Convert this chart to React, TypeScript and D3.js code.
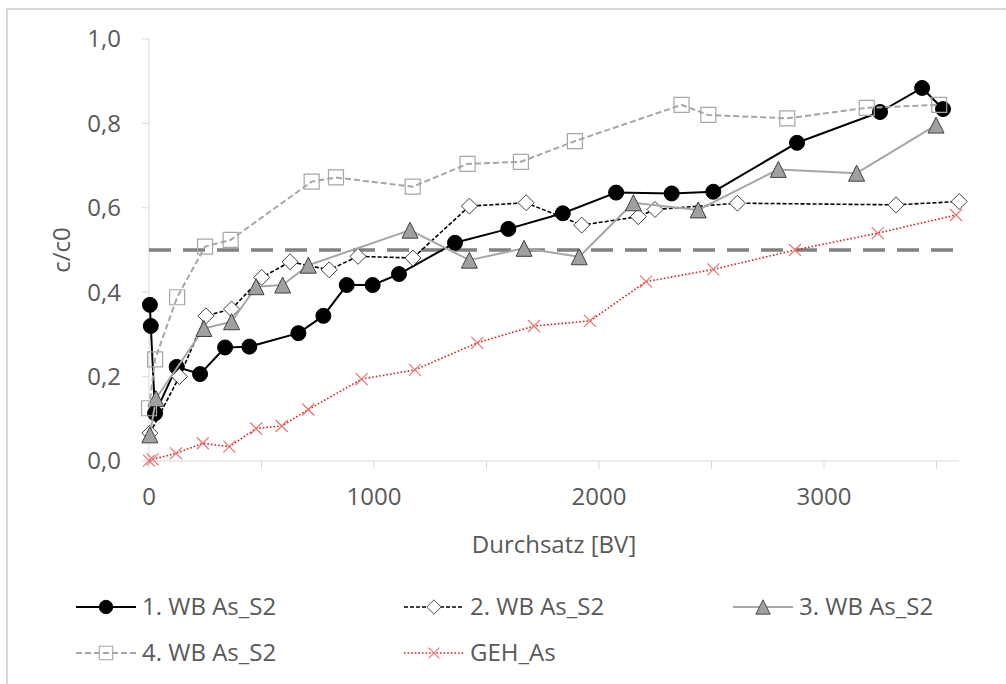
import { useEffect, useRef } from "react";
import * as d3 from "d3";

// Durchsatz [BV] and c/c0 per series
const bv1 = [4, 8, 27, 123, 227, 338, 446, 664, 775, 879, 994, 1111, 1360, 1597, 1839, 2076, 2323, 2508, 2880, 3249, 3436, 3529];
const cc1 = [0.37, 0.32, 0.113, 0.223, 0.206, 0.269, 0.271, 0.303, 0.344, 0.417, 0.417, 0.443, 0.517, 0.55, 0.587, 0.636, 0.634, 0.638, 0.754, 0.827, 0.884, 0.834];

const bv2 = [4, 135, 253, 367, 501, 627, 801, 929, 1173, 1424, 1676, 1923, 2175, 2249, 2615, 3320, 3601];
const cc2 = [0.066, 0.2, 0.344, 0.36, 0.435, 0.472, 0.453, 0.485, 0.481, 0.604, 0.612, 0.559, 0.579, 0.596, 0.611, 0.607, 0.615];

const bv3 = [4, 31, 244, 367, 476, 594, 708, 1160, 1424, 1667, 1912, 2153, 2441, 2797, 3145, 3498];
const cc3 = [0.062, 0.148, 0.314, 0.33, 0.413, 0.417, 0.464, 0.547, 0.476, 0.504, 0.484, 0.612, 0.595, 0.691, 0.682, 0.796];

const bv4 = [0, 27, 125, 249, 363, 723, 831, 1172, 1416, 1653, 1893, 2367, 2486, 2837, 3190, 3512];
const cc4 = [0.125, 0.241, 0.388, 0.508, 0.524, 0.662, 0.672, 0.65, 0.704, 0.709, 0.758, 0.844, 0.82, 0.812, 0.837, 0.844];

const bv5 = [0, 16, 120, 239, 357, 476, 590, 708, 945, 1182, 1459, 1711, 1960, 2209, 2508, 2871, 3239, 3587];
const cc5 = [0.001, 0.004, 0.018, 0.042, 0.034, 0.077, 0.083, 0.122, 0.194, 0.216, 0.28, 0.32, 0.332, 0.425, 0.454, 0.5, 0.54, 0.583];

const seriesNames = ["1. WB As_S2", "2. WB As_S2", "3. WB As_S2", "4. WB As_S2", "GEH_As"];
const yTicks = [0, 0.2, 0.4, 0.6, 0.8, 1.0];
const xTicks = [0, 1000, 2000, 3000];
const halfLine = 0.5;

const FONT = "'Open Sans', sans-serif";
const TXT = "#595959";
const FS = 24;

const circlePath = (s) => d3.symbol(d3.symbolCircle, Math.PI * (s / 2) * (s / 2))();
const squarePath = (s) => `M${-s / 2},${-s / 2}h${s}v${s}h${-s}Z`;
const diamondPath = (s) => `M0,${-s / 2}L${s / 2},0L0,${s / 2}L${-s / 2},0Z`;
const trianglePath = (s) => `M0,${-s / 2}L${s / 2},${s / 2}L${-s / 2},${s / 2}Z`;
const crossPath = (s) => `M${-s / 2},${-s / 2}L${s / 2},${s / 2}M${s / 2},${-s / 2}L${-s / 2},${s / 2}`;

const styles = [
  { line: "#000000", width: 2, dash: null, marker: circlePath(15), fill: "#000000", stroke: "#000000", mw: 1 },
  { line: "#000000", width: 1.6, dash: "4,2", marker: diamondPath(16), fill: "#ffffff", stroke: "#404040", mw: 1 },
  { line: "#a6a6a6", width: 2, dash: null, marker: trianglePath(16), fill: "#a0a0a0", stroke: "#404040", mw: 1 },
  { line: "#a6a6a6", width: 2, dash: "6,3", marker: squarePath(15), fill: "none", stroke: "#a6a6a6", mw: 1.2 },
  { line: "#e02020", width: 1.6, dash: "1.6,2", marker: crossPath(12), fill: "none", stroke: "#f07070", mw: 1.2 },
];

const App = () => {
  const ref = useRef(null);

  useEffect(() => {
    const svg = d3.select(ref.current);
    svg.selectAll("*").remove();

    const x = d3.scaleLinear().domain([0, 3600]).range([149, 959]);
    const y = d3.scaleLinear().domain([0, 1]).range([461, 39]);

    // chart area border (only top/left visible)
    svg.append("rect").attr("x", 7).attr("y", 9).attr("width", 1020).attr("height", 700)
      .attr("fill", "#fff").attr("stroke", "#d9d9d9").attr("stroke-width", 2);

    // y axis
    svg.append("line").attr("x1", 149).attr("x2", 149).attr("y1", y(1)).attr("y2", y(0))
      .attr("stroke", "#d9d9d9").attr("stroke-width", 1);
    yTicks.forEach((t) => {
      svg.append("line").attr("x1", 142).attr("x2", 149).attr("y1", y(t)).attr("y2", y(t))
        .attr("stroke", "#d9d9d9");
      svg.append("text").attr("x", 121).attr("y", y(t)).attr("dy", "0.35em")
        .attr("text-anchor", "end").attr("font-family", FONT).attr("font-size", FS)
        .attr("fill", TXT).text(d3.format(".1f")(t).replace(".", ","));
    });

    // x axis
    svg.append("line").attr("x1", x(0)).attr("x2", x(3600)).attr("y1", 461).attr("y2", 461)
      .attr("stroke", "#d9d9d9").attr("stroke-width", 1);
    d3.range(0, 3600, 500).forEach((t) => {
      svg.append("line").attr("x1", x(t)).attr("x2", x(t)).attr("y1", 461).attr("y2", 469)
        .attr("stroke", "#d9d9d9");
    });
    xTicks.forEach((t) => {
      svg.append("text").attr("x", x(t)).attr("y", 497).attr("dy", "0.35em")
        .attr("text-anchor", "middle").attr("font-family", FONT).attr("font-size", FS)
        .attr("fill", TXT).text(t);
    });

    svg.append("text").attr("x", 554).attr("y", 545).attr("dy", "0.35em")
      .attr("text-anchor", "middle").attr("font-family", FONT).attr("font-size", FS)
      .attr("fill", TXT).text("Durchsatz [BV]");
    svg.append("text").attr("transform", "translate(62,250) rotate(-90)").attr("dy", "0.35em")
      .attr("text-anchor", "middle").attr("font-family", FONT).attr("font-size", FS)
      .attr("fill", TXT).text("c/c0");

    // 50 % line
    svg.append("line").attr("x1", x(0)).attr("x2", x(3600)).attr("y1", y(halfLine)).attr("y2", y(halfLine))
      .attr("stroke", "#808080").attr("stroke-width", 3.5).attr("stroke-dasharray", "22,12");

    const allX = [bv1, bv2, bv3, bv4, bv5];
    const allY = [cc1, cc2, cc3, cc4, cc5];

    allX.forEach((xs, i) => {
      const st = styles[i];
      const pts = xs.map((v, j) => [v, allY[i][j]]);
      const line = d3.line().x((d) => x(d[0])).y((d) => y(d[1]));
      svg.append("path").attr("d", line(pts)).attr("fill", "none")
        .attr("stroke", st.line).attr("stroke-width", st.width)
        .attr("stroke-dasharray", st.dash).attr("stroke-linejoin", "round");
      svg.selectAll(null).data(pts).enter().append("path")
        .attr("d", st.marker)
        .attr("transform", (d) => `translate(${x(d[0])},${y(d[1])})`)
        .attr("fill", st.fill).attr("stroke", st.stroke).attr("stroke-width", st.mw);
    });

    // legend
    const legX = [76, 404, 733, 76, 404];
    const legY = [607, 607, 607, 653, 653];
    seriesNames.forEach((name, i) => {
      const st = styles[i];
      const g = svg.append("g").attr("transform", `translate(${legX[i]},${legY[i]})`);
      g.append("line").attr("x1", 0).attr("x2", 60).attr("y1", 0).attr("y2", 0)
        .attr("stroke", st.line).attr("stroke-width", st.width).attr("stroke-dasharray", st.dash);
      g.append("path").attr("d", st.marker).attr("transform", "translate(30,0) scale(0.9)")
        .attr("fill", st.fill).attr("stroke", st.stroke).attr("stroke-width", st.mw);
      g.append("text").attr("x", 66).attr("y", 0).attr("dy", "0.35em")
        .attr("font-family", FONT).attr("font-size", FS).attr("fill", TXT).text(name);
    });
  }, []);

  return (
    <svg ref={ref} width={1006} height={684}
      style={{ position: "absolute", left: 0, top: 0, background: "#fff" }} />
  );
};

export default App;
